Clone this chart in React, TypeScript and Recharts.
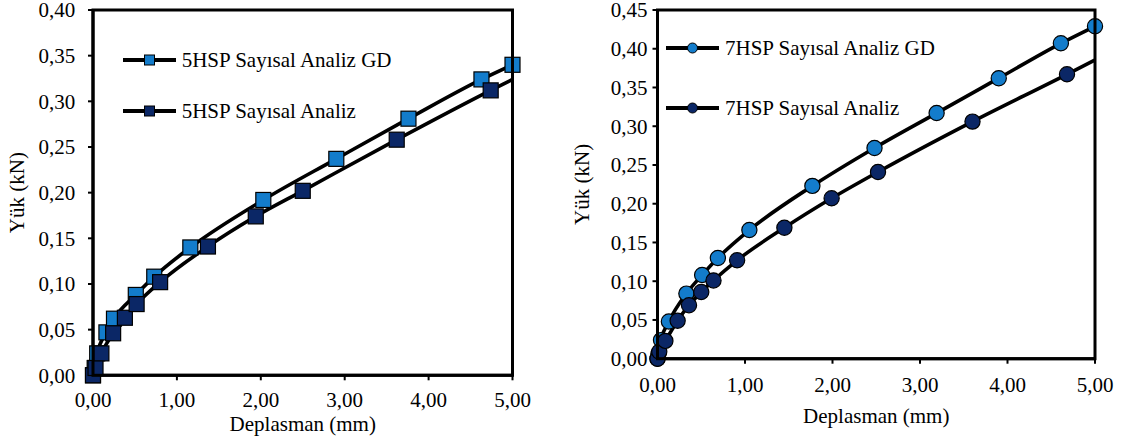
import React from 'react';
import { ComposedChart, Line, Scatter, XAxis, YAxis, Label } from 'recharts';

const FONT = 'Liberation Serif, DejaVu Serif, serif';
const LIGHT = '#137CCB';
const DARK = '#0B2766';

const xTicks = [0, 1, 2, 3, 4, 5];
const yTicksLeft = [0, 0.05, 0.1, 0.15, 0.2, 0.25, 0.3, 0.35, 0.4];
const yTicksRight = [0, 0.05, 0.1, 0.15, 0.2, 0.25, 0.3, 0.35, 0.4, 0.45];

const xTitle = 'Deplasman (mm)';
const yTitle = 'Yük (kN)';

// Left panel: 5HSP
const hsp5GdName = '5HSP Sayısal Analiz GD';
const hsp5GdX = [0, 0.02, 0.05, 0.16, 0.25, 0.51, 0.73, 1.16, 2.03, 2.9, 3.76, 4.63, 5.0];
const hsp5GdY = [0, 0.008, 0.024, 0.047, 0.062, 0.088, 0.108, 0.14, 0.192, 0.237, 0.281, 0.324, 0.34];

const hsp5Name = '5HSP Sayısal Analiz';
const hsp5X = [0, 0.03, 0.1, 0.24, 0.38, 0.52, 0.8, 1.37, 1.94, 2.5, 3.62, 4.74];
const hsp5Y = [0, 0.008, 0.024, 0.046, 0.063, 0.078, 0.102, 0.141, 0.174, 0.202, 0.258, 0.312];
const hsp5EndAt5 = 0.324; // curve value where it meets the right border

// Right panel: 7HSP
const hsp7GdName = '7HSP Sayısal Analiz GD';
const hsp7GdX = [0, 0.01, 0.04, 0.13, 0.33, 0.51, 0.69, 1.05, 1.77, 2.48, 3.19, 3.9, 4.61, 5.0];
const hsp7GdY = [0, 0.006, 0.024, 0.048, 0.084, 0.108, 0.13, 0.166, 0.223, 0.272, 0.317, 0.362, 0.407, 0.429];

const hsp7Name = '7HSP Sayısal Analiz';
const hsp7X = [0, 0.02, 0.09, 0.23, 0.36, 0.5, 0.64, 0.91, 1.45, 1.99, 2.52, 3.6, 4.68];
const hsp7Y = [0, 0.009, 0.023, 0.049, 0.069, 0.086, 0.101, 0.127, 0.169, 0.207, 0.241, 0.306, 0.367];
const hsp7EndAt5 = 0.3855;

type Pt = { x: number; y: number };
const zip = (xs: number[], ys: number[]): Pt[] => xs.map((x, i) => ({ x, y: ys[i] }));
const fmt = (v: number) => v.toFixed(2).replace('.', ',');

type Series = { name: string; points: Pt[]; line: Pt[]; fill: string };

const leftSeries: Series[] = [
  { name: hsp5GdName, points: zip(hsp5GdX, hsp5GdY), line: zip(hsp5GdX, hsp5GdY), fill: LIGHT },
  { name: hsp5Name, points: zip(hsp5X, hsp5Y), line: [...zip(hsp5X, hsp5Y), { x: 5, y: hsp5EndAt5 }], fill: DARK },
];
const rightSeries: Series[] = [
  { name: hsp7GdName, points: zip(hsp7GdX, hsp7GdY), line: zip(hsp7GdX, hsp7GdY), fill: LIGHT },
  { name: hsp7Name, points: zip(hsp7X, hsp7Y), line: [...zip(hsp7X, hsp7Y), { x: 5, y: hsp7EndAt5 }], fill: DARK },
];

type Kind = 'square' | 'circle';

const CHART_H = 444;
const TOP = 10;
const X_AXIS_H = 30;
const FRAME_W = 3;

const markerShape = (kind: Kind, fill: string) => (p: any) => {
  const cx = p.cx;
  const cy = p.cy;
  if (cx == null || cy == null) return <g />;
  if (kind === 'square') {
    return <rect x={cx - 7.5} y={cy - 7.5} width={15} height={15} fill={fill} stroke="#000" strokeWidth={1.2} />;
  }
  return <circle cx={cx} cy={cy} r={7.6} fill={fill} stroke="#000" strokeWidth={1.2} />;
};

type PanelProps = {
  left: number;
  width: number;
  yAxisWidth: number;
  marginRight: number;
  marginBottom: number;
  yMax: number;
  yTicks: number[];
  series: Series[];
  kind: Kind;
  xTickGap: number;
  yTickGap: number;
  xTitleDy: number;
  yTitleDx: number;
  legendLeft: number;
  legendRows: number[];
};

function Legend2({ left, rows, series, kind }: { left: number; rows: number[]; series: Series[]; kind: Kind }) {
  return (
    <>
      {series.map((s, i) => (
        <div
          key={s.name}
          style={{
            position: 'absolute',
            left,
            top: rows[i] - 15,
            height: 30,
            display: 'flex',
            alignItems: 'center',
            whiteSpace: 'nowrap',
            zIndex: 6,
          }}
        >
          <svg width={53} height={30} style={{ display: 'block' }}>
            <line x1={0} y1={15} x2={53} y2={15} stroke="#000" strokeWidth={4} />
            {kind === 'square' ? (
              <rect x={21.5} y={10} width={10} height={10} fill={s.fill} stroke="#000" strokeWidth={1} />
            ) : (
              <circle cx={26.5} cy={15} r={5} fill={s.fill} stroke="#000" strokeWidth={1} />
            )}
          </svg>
          <span style={{ marginLeft: 6, fontSize: 21, fontFamily: FONT, color: '#000', lineHeight: '30px' }}>{s.name}</span>
        </div>
      ))}
    </>
  );
}

function Panel(props: PanelProps) {
  const {
    left, width, yAxisWidth, marginRight, marginBottom, yMax, yTicks, series, kind,
    xTickGap, yTickGap, xTitleDy, yTitleDx, legendLeft, legendRows,
  } = props;
  const tickStyle = { fill: '#000', fontSize: 21, fontFamily: FONT };
  const plotLeft = yAxisWidth;
  const plotRight = width - marginRight;
  const plotBottom = CHART_H - marginBottom - X_AXIS_H;
  return (
    <div style={{ position: 'absolute', left, top: 0, width, height: CHART_H }}>
      <div style={{ position: 'absolute', left: 0, top: 0, width, height: CHART_H, zIndex: 1 }}>
        <ComposedChart
          width={width}
          height={CHART_H}
          margin={{ top: TOP, right: marginRight, bottom: marginBottom, left: 0 }}
          style={{ fontFamily: FONT }}
        >
          <XAxis
            dataKey="x"
            type="number"
            domain={[0, 5]}
            ticks={xTicks}
            interval={0}
            tickFormatter={fmt}
            height={X_AXIS_H}
            tickSize={5}
            tickMargin={xTickGap}
            axisLine={{ stroke: '#000', strokeWidth: 3 }}
            tickLine={{ stroke: '#000', strokeWidth: 2 }}
            tick={tickStyle}
          >
            <Label
              content={(p: any) => {
                const vb = p.viewBox || { x: 0, y: 0, width: 0, height: 0 };
                return (
                  <text x={vb.x + vb.width / 2} y={vb.y + xTitleDy} textAnchor="middle" fontSize={21} fontFamily={FONT} fill="#000">
                    {xTitle}
                  </text>
                );
              }}
            />
          </XAxis>
          <YAxis
            dataKey="y"
            type="number"
            domain={[0, yMax]}
            ticks={yTicks}
            interval={0}
            tickFormatter={fmt}
            width={yAxisWidth}
            tickSize={5}
            tickMargin={yTickGap}
            axisLine={{ stroke: '#000', strokeWidth: 3 }}
            tickLine={{ stroke: '#000', strokeWidth: 2 }}
            tick={tickStyle}
          >
            <Label
              content={(p: any) => {
                const vb = p.viewBox || { x: 0, y: 0, width: 0, height: 0 };
                const cx = vb.x + yTitleDx;
                const cy = vb.y + vb.height / 2;
                return (
                  <text x={cx} y={cy} transform={`rotate(-90 ${cx} ${cy})`} textAnchor="middle" fontSize={21} fontFamily={FONT} fill="#000">
                    {yTitle}
                  </text>
                );
              }}
            />
          </YAxis>
          {series.map((s) => [
            <Line
              key={s.name + '-line'}
              data={s.line}
              dataKey="y"
              type="monotone"
              stroke="#000"
              strokeWidth={3.6}
              dot={false}
              activeDot={false}
              isAnimationActive={false}
              legendType="none"
            />,
            <Scatter
              key={s.name + '-pts'}
              data={s.points}
              dataKey="y"
              fill={s.fill}
              shape={markerShape(kind, s.fill)}
              isAnimationActive={false}
              legendType="none"
            />,
          ])}
        </ComposedChart>
      </div>
      {/* plot-area frame (full box) drawn on top of the chart */}
      <svg
        width={width}
        height={CHART_H}
        style={{ position: 'absolute', left: 0, top: 0, zIndex: 4, pointerEvents: 'none', overflow: 'visible' }}
      >
        <rect
          x={plotLeft}
          y={TOP}
          width={plotRight - plotLeft}
          height={plotBottom - TOP}
          fill="none"
          stroke="#000"
          strokeWidth={FRAME_W}
        />
      </svg>
      <Legend2 left={legendLeft} rows={legendRows} series={series} kind={kind} />
    </div>
  );
}

export default function App() {
  return (
    <div style={{ position: 'absolute', left: 0, top: 0, width: 1122, height: 444, background: '#fff', fontFamily: FONT }}>
      <Panel
        left={0}
        width={560}
        yAxisWidth={93}
        marginRight={47.5}
        marginBottom={38.7}
        yMax={0.4}
        yTicks={yTicksLeft}
        series={leftSeries}
        kind="square"
        xTickGap={12}
        yTickGap={12.7}
        xTitleDy={55.7}
        yTitleDx={24}
        legendLeft={122.7}
        legendRows={[60, 110.7]}
      />
      <Panel
        left={560}
        width={562}
        yAxisWidth={97.5}
        marginRight={27}
        marginBottom={55.3}
        yMax={0.45}
        yTicks={yTicksRight}
        series={rightSeries}
        kind="circle"
        xTickGap={13}
        yTickGap={5}
        xTitleDy={64.3}
        yTitleDx={29.5}
        legendLeft={106}
        legendRows={[47.7, 108.3]}
      />
    </div>
  );
}
